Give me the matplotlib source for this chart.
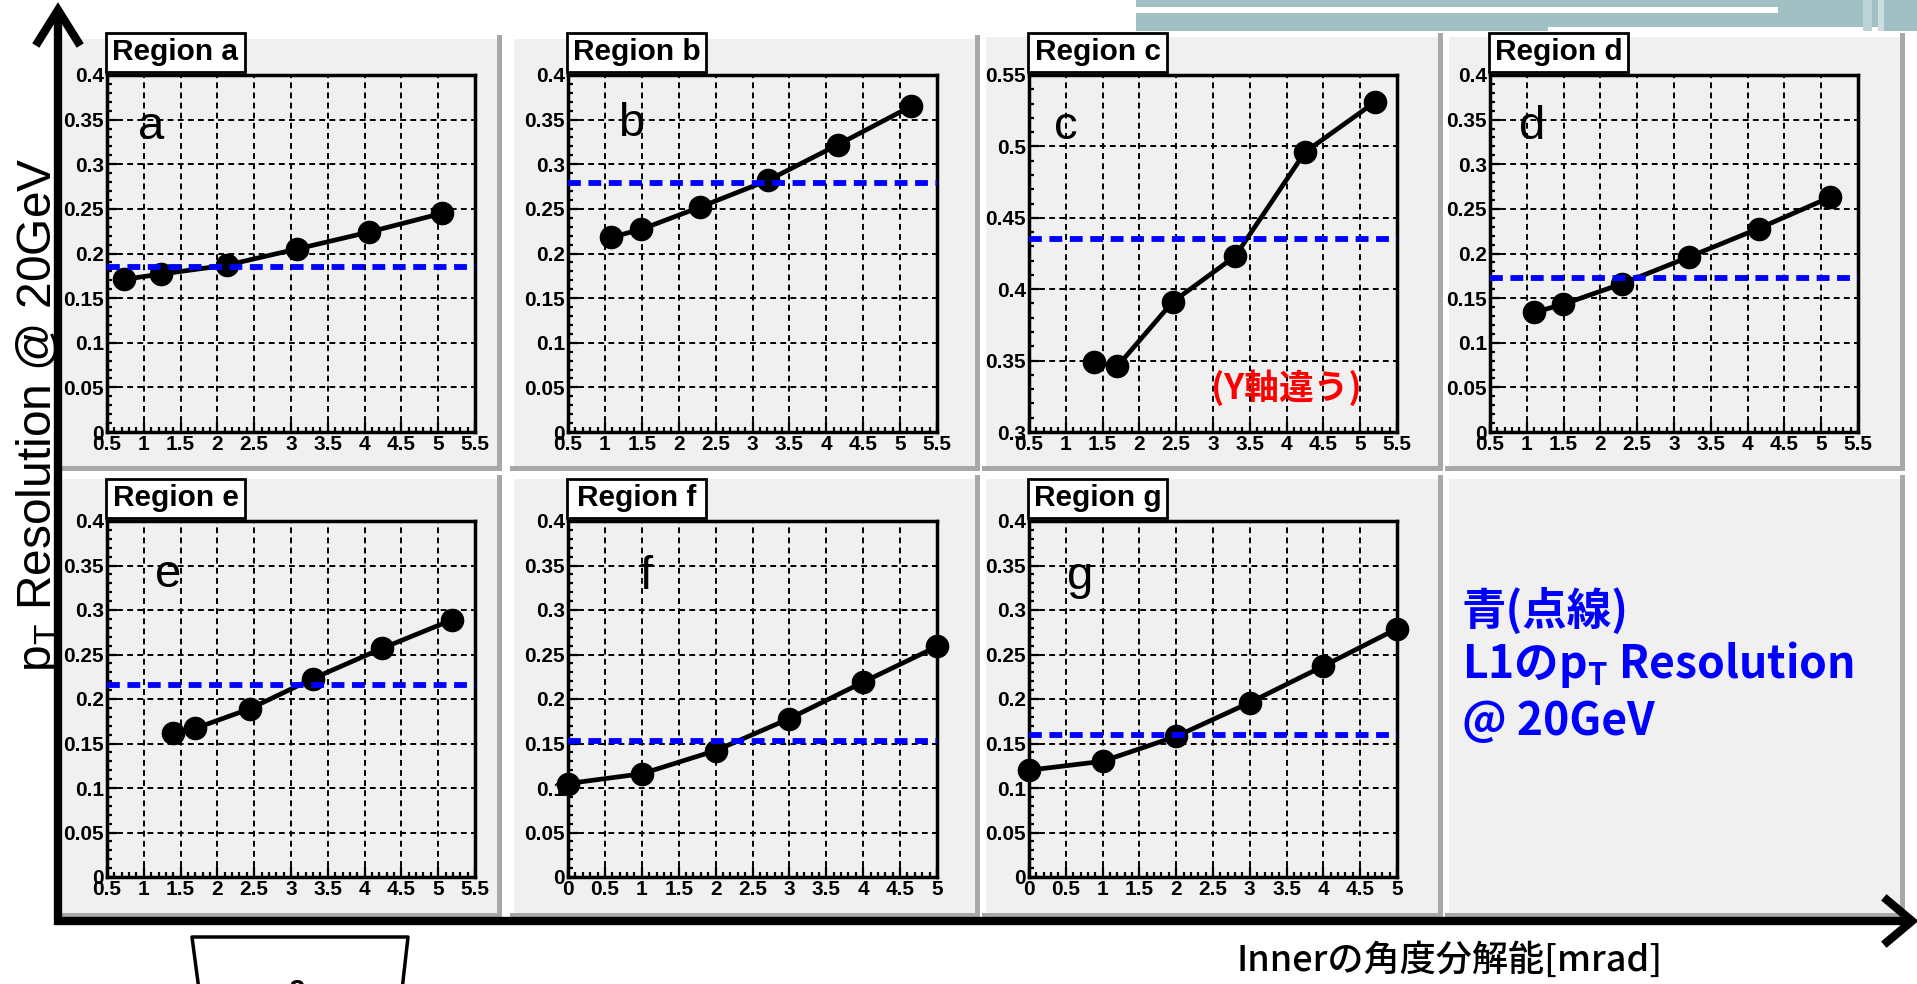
import matplotlib
matplotlib.use("Agg")
import matplotlib.pyplot as plt
from matplotlib.patches import Rectangle
from matplotlib.ticker import MultipleLocator, FuncFormatter

# ---- data ----
regions = ["a", "b", "c", "d", "e", "f", "g"]

x_a = [0.73, 1.24, 2.13, 3.08, 4.06, 5.05]
y_a = [0.171, 0.177, 0.187, 0.205, 0.224, 0.245]
x_b = [1.08, 1.49, 2.29, 3.21, 4.16, 5.15]
y_b = [0.218, 0.227, 0.252, 0.282, 0.322, 0.365]
x_c = [1.38, 1.70, 2.45, 3.30, 4.25, 5.20]
y_c = [0.349, 0.346, 0.391, 0.423, 0.496, 0.531]
x_d = [1.10, 1.49, 2.29, 3.20, 4.15, 5.12]
y_d = [0.134, 0.143, 0.166, 0.196, 0.228, 0.263]
x_e = [1.39, 1.70, 2.44, 3.30, 4.24, 5.19]
y_e = [0.162, 0.167, 0.189, 0.223, 0.257, 0.289]
x_f = [0, 1, 2, 3, 4, 5]
y_f = [0.105, 0.116, 0.142, 0.178, 0.219, 0.259]
x_g = [0, 1, 2, 3, 4, 5]
y_g = [0.120, 0.130, 0.158, 0.196, 0.237, 0.279]

# L1 pT resolution @ 20GeV (blue dashed line)
l1_res = [0.185, 0.279, 0.435, 0.172, 0.216, 0.153, 0.160]

x_ranges = [(0.5, 5.5)] * 5 + [(0, 5)] * 2
y_ranges = [(0, 0.4), (0, 0.4), (0.3, 0.55), (0, 0.4), (0, 0.4), (0, 0.4), (0, 0.4)]

xs = [x_a, x_b, x_c, x_d, x_e, x_f, x_g]
ys = [y_a, y_b, y_c, y_d, y_e, y_f, y_g]

# ---- layout (figure pixels, y down) ----
W, H = 1917, 984
axes_px = [(107, 75, 475, 432), (568, 75, 937, 432), (1029, 75, 1397, 432),
           (1490, 75, 1858, 432), (107, 521, 475, 877), (568, 521, 937, 877),
           (1029, 521, 1397, 877)]
pads_px = [(56, 35, 502, 471), (510, 35, 980, 471), (982, 33, 1443, 471),
           (1445, 33, 1905, 471), (56, 475, 502, 918), (510, 475, 980, 918),
           (982, 475, 1443, 918), (1445, 475, 1905, 918)]
letter_pos = [(0.12, 0.82), (0.17, 0.83), (0.10, 0.82), (0.115, 0.82),
              (0.165, 0.815), (0.21, 0.81), (0.14, 0.81)]

PAD_GRAY = "#f0f0f0"
TICK_FONT = "Liberation Sans"
CJK = ["Noto Sans CJK JP", "DejaVu Sans"]

fig = plt.figure(figsize=(W / 100, H / 100), dpi=100, facecolor="white")


def pixel_axes(zorder):
    ax = fig.add_axes([0, 0, 1, 1], zorder=zorder)
    ax.set_xlim(0, W)
    ax.set_ylim(H, 0)
    ax.set_facecolor("none")
    ax.axis("off")
    return ax


bg = pixel_axes(0)
ov = pixel_axes(10)

# slide template band, top right
bg.add_patch(Rectangle((1136, 0), W - 1136, 31, fc="#a1c0c3", ec="none"))
bg.add_patch(Rectangle((1136, 7), 1778 - 1136, 6, fc="white", ec="none"))
bg.add_patch(Rectangle((1548, 27), 1883 - 1548, 5, fc="white", ec="none"))
bg.add_patch(Rectangle((1863, 0), 9, 31, fc="#bcd2d4", ec="none"))
bg.add_patch(Rectangle((1878, 0), 6, 31, fc="#cddcdd", ec="none"))

# ROOT pads with bevel
for x0, y0, x1, y1 in pads_px:
    bg.add_patch(Rectangle((x0, y0), x1 - x0, y1 - y0, fc="#a8a8a8", ec="none"))
    bg.add_patch(Rectangle((x0, y0), x1 - x0 - 5, y1 - y0 - 5, fc="white", ec="none"))
    bg.add_patch(Rectangle((x0 + 4, y0 + 4), x1 - x0 - 9, y1 - y0 - 9, fc=PAD_GRAY, ec="none"))

fmt = FuncFormatter(lambda v, p: f"{v:g}")

for i, name in enumerate(regions):
    x0, y0, x1, y1 = axes_px[i]
    ax = fig.add_axes([x0 / W, 1 - y1 / H, (x1 - x0) / W, (y1 - y0) / H], zorder=2)
    ax.set_facecolor(PAD_GRAY)
    ax.set_xlim(*x_ranges[i])
    ax.set_ylim(*y_ranges[i])
    ax.xaxis.set_major_locator(MultipleLocator(0.5))
    ax.xaxis.set_minor_locator(MultipleLocator(0.1))
    ax.yaxis.set_major_locator(MultipleLocator(0.05))
    ax.yaxis.set_minor_locator(MultipleLocator(0.01))
    ax.xaxis.set_major_formatter(fmt)
    ax.yaxis.set_major_formatter(fmt)
    ax.tick_params(which="both", direction="in", top=False, right=False, width=1.6)
    ax.tick_params(which="major", length=7, pad=2)
    ax.tick_params(which="minor", length=3.5)
    for lab in ax.get_xticklabels() + ax.get_yticklabels():
        lab.set_fontfamily(TICK_FONT)
        lab.set_fontweight("bold")
        lab.set_fontsize(15)
    for sp in ax.spines.values():
        sp.set_linewidth(2.5)
    ax.grid(True, which="major", color="black", lw=1.4, linestyle=(0, (3, 2.2)))

    ax.plot(xs[i], ys[i], "-o", color="black", lw=3.4, ms=16, clip_on=False, zorder=2.5)
    ax.axhline(l1_res[i], color="#0000ff", lw=4.2, dashes=(2.2, 1.3), zorder=3)

    lx, ly = letter_pos[i]
    ax.text(lx, ly, name, transform=ax.transAxes, ha="center", va="baseline",
            fontsize=34, family="Liberation Sans")

    # "Region x" title box
    ov.add_patch(Rectangle((x0 - 1, y0 - 42), 139, 39, fc="white", ec="black", lw=2))
    ov.text(x0 - 1 + 69.5, y0 - 22.5, f"Region {name}", ha="center", va="center",
            fontsize=21.5, fontweight="bold", family="Liberation Sans")

# red note in region c
ov.text(1286, 388, "(Y軸違う)", color="#ff0000", ha="center", va="center",
        fontsize=25, fontweight="bold", family=CJK)

# blue note in the empty pad
ov.text(1462, 625, "青(点線)", color="#0000ff", ha="left", va="baseline",
        fontsize=32, fontweight="bold", family=CJK)
ov.text(1462, 678, "L1の$\\mathregular{p_T}$ Resolution", color="#0000ff", ha="left",
        va="baseline", fontsize=32, fontweight="bold", family=CJK)
ov.text(1462, 735, "@ 20GeV", color="#0000ff", ha="left", va="baseline",
        fontsize=32, fontweight="bold", family=CJK)

# big hand-drawn style axes
ov.plot([58, 58], [925, 12], color="black", lw=6, solid_capstyle="butt")
ov.plot([38, 58, 78], [42, 10, 42], color="black", lw=6, solid_joinstyle="miter")
ov.plot([55, 1910], [921, 921], color="black", lw=6, solid_capstyle="butt")
ov.plot([1887, 1912, 1887], [900, 921, 942], color="black", lw=6, solid_joinstyle="miter")

ov.text(39, 415, "$\\mathregular{p_T}$ Resolution @ 20GeV", rotation=90,
        ha="center", va="center", fontsize=34.5, family="Liberation Sans")
ov.text(1237, 961, "Innerの角度分解能[mrad]", ha="left", va="center",
        fontsize=26, fontweight="medium", family=CJK)

# partly visible box at the bottom left
ov.plot([199, 192, 408, 402], [990, 937, 937, 990], color="black", lw=2.5)
ov.text(297, 974, "a", ha="center", va="top", fontsize=22, fontweight="bold",
        family="Liberation Sans")

fig.savefig("out.png", dpi=100, facecolor="white")
